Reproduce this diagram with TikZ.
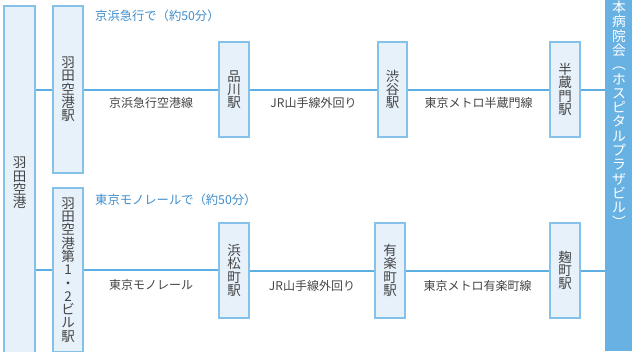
\documentclass[tikz,border=0pt]{standalone}
\usepackage{fontspec}
\setmainfont{Noto Sans CJK JP}
\newfontfamily\cjk{Noto Sans CJK JP}
\definecolor{boxfill}{HTML}{E6F1FA}
\definecolor{boxline}{HTML}{86C1EA}
\definecolor{linecol}{HTML}{5FAEE3}
\definecolor{barcol}{HTML}{67B2E3}
\definecolor{bluetxt}{HTML}{3F8DCB}
\definecolor{graytxt}{HTML}{444444}
\begin{document}
\begin{tikzpicture}[x=1pt,y=-1pt,
  stbox/.style={draw=boxline, line width=1.3pt, fill=boxfill, inner sep=0pt, align=center,
    text=graytxt, font=\cjk\fontsize{13.5}{13.3}\selectfont},
  conn/.style={draw=linecol, line width=2pt},
  lbl/.style={text=graytxt, font=\cjk\fontsize{12}{12}\selectfont, inner sep=0pt},
  ttl/.style={text=bluetxt, font=\cjk\fontsize{12.3}{12}\selectfont, inner sep=0pt, anchor=west},
  bartext/.style={inner sep=0pt, text=white, text height=10.5pt, text depth=1.5pt,
    font=\cjk\fontsize{13.8}{14}\selectfont}]
\useasboundingbox (0,0) rectangle (632,351);
\begin{scope}
\clip (0,0) rectangle (632,351);
% left airport box
\node[stbox, minimum width=31pt, minimum height=354pt] (hnd) at (19.5,183) {羽\\田\\空\\港};
% first column stations
\node[stbox, minimum width=30pt, minimum height=167pt] (ks) at (68,89.5) {羽\\田\\空\\港\\駅};
\node[stbox, minimum width=30pt, minimum height=164pt] (mono) at (68,270) {羽\\田\\空\\港\\第\\1\\・\\2\\ビ\\ル\\駅};
% top row
\node[stbox, minimum width=30pt, minimum height=95pt] (shin) at (234,89.5) {品\\川\\駅};
\node[stbox, minimum width=29pt, minimum height=95pt] (shib) at (392.5,89.5) {渋\\谷\\駅};
\node[stbox, minimum width=30pt, minimum height=95pt] (hanz) at (565,89.5) {半\\蔵\\門\\駅};
% bottom row
\node[stbox, minimum width=30pt, minimum height=95pt] (hama) at (234,270.5) {浜\\松\\町\\駅};
\node[stbox, minimum width=30pt, minimum height=95pt] (yura) at (390,270.5) {有\\楽\\町\\駅};
\node[stbox, minimum width=30pt, minimum height=95pt] (koji) at (565,270.5) {麹\\町\\駅};
% hospital bar
\node[fill=barcol, inner sep=0pt, minimum width=27pt, minimum height=351pt] (bar) at (618.5,175.5) {};
\foreach \c [count=\i] in {本,病,院,会,︵,ホ,ス,ピ,タ,ル,プ,ラ,ザ,ビ,ル,︶}
  \node[bartext] (bt\i) at (619,{8+(\i-1)*14.3}) {\c};
% connectors top
\draw[conn] (hnd.east |- ks.west) -- (ks.west);
\draw[conn] (ks.east) -- (shin.west) node[lbl, midway, yshift=-13pt] {京浜急行空港線};
\draw[conn] (shin.east) -- (shib.west) node[lbl, midway, yshift=-13pt] {JR山手線外回り};
\draw[conn] (shib.east) -- (hanz.west) node[lbl, midway, yshift=-13.5pt] {東京メトロ半蔵門線};
\draw[conn] (hanz.east) -- (bar.west |- hanz.east);
% connectors bottom
\draw[conn] (hnd.east |- mono.west) -- (mono.west);
\draw[conn] (mono.east) -- (hama.west |- mono.east) node[lbl, midway, yshift=-15pt] {東京モノレール};
\draw[conn] (hama.east) -- (yura.west) node[lbl, midway, yshift=-15pt] {JR山手線外回り};
\draw[conn] (yura.east) -- (koji.west) node[lbl, midway, yshift=-15pt] {東京メトロ有楽町線};
\draw[conn] (koji.east) -- (bar.west |- koji.east);
% titles
\node[ttl] (t1) at (95,16) {京浜急行で（約50分）};
\node[ttl] (t2) at (95,200) {東京モノレールで（約50分）};
\end{scope}
\end{tikzpicture}
\end{document}
